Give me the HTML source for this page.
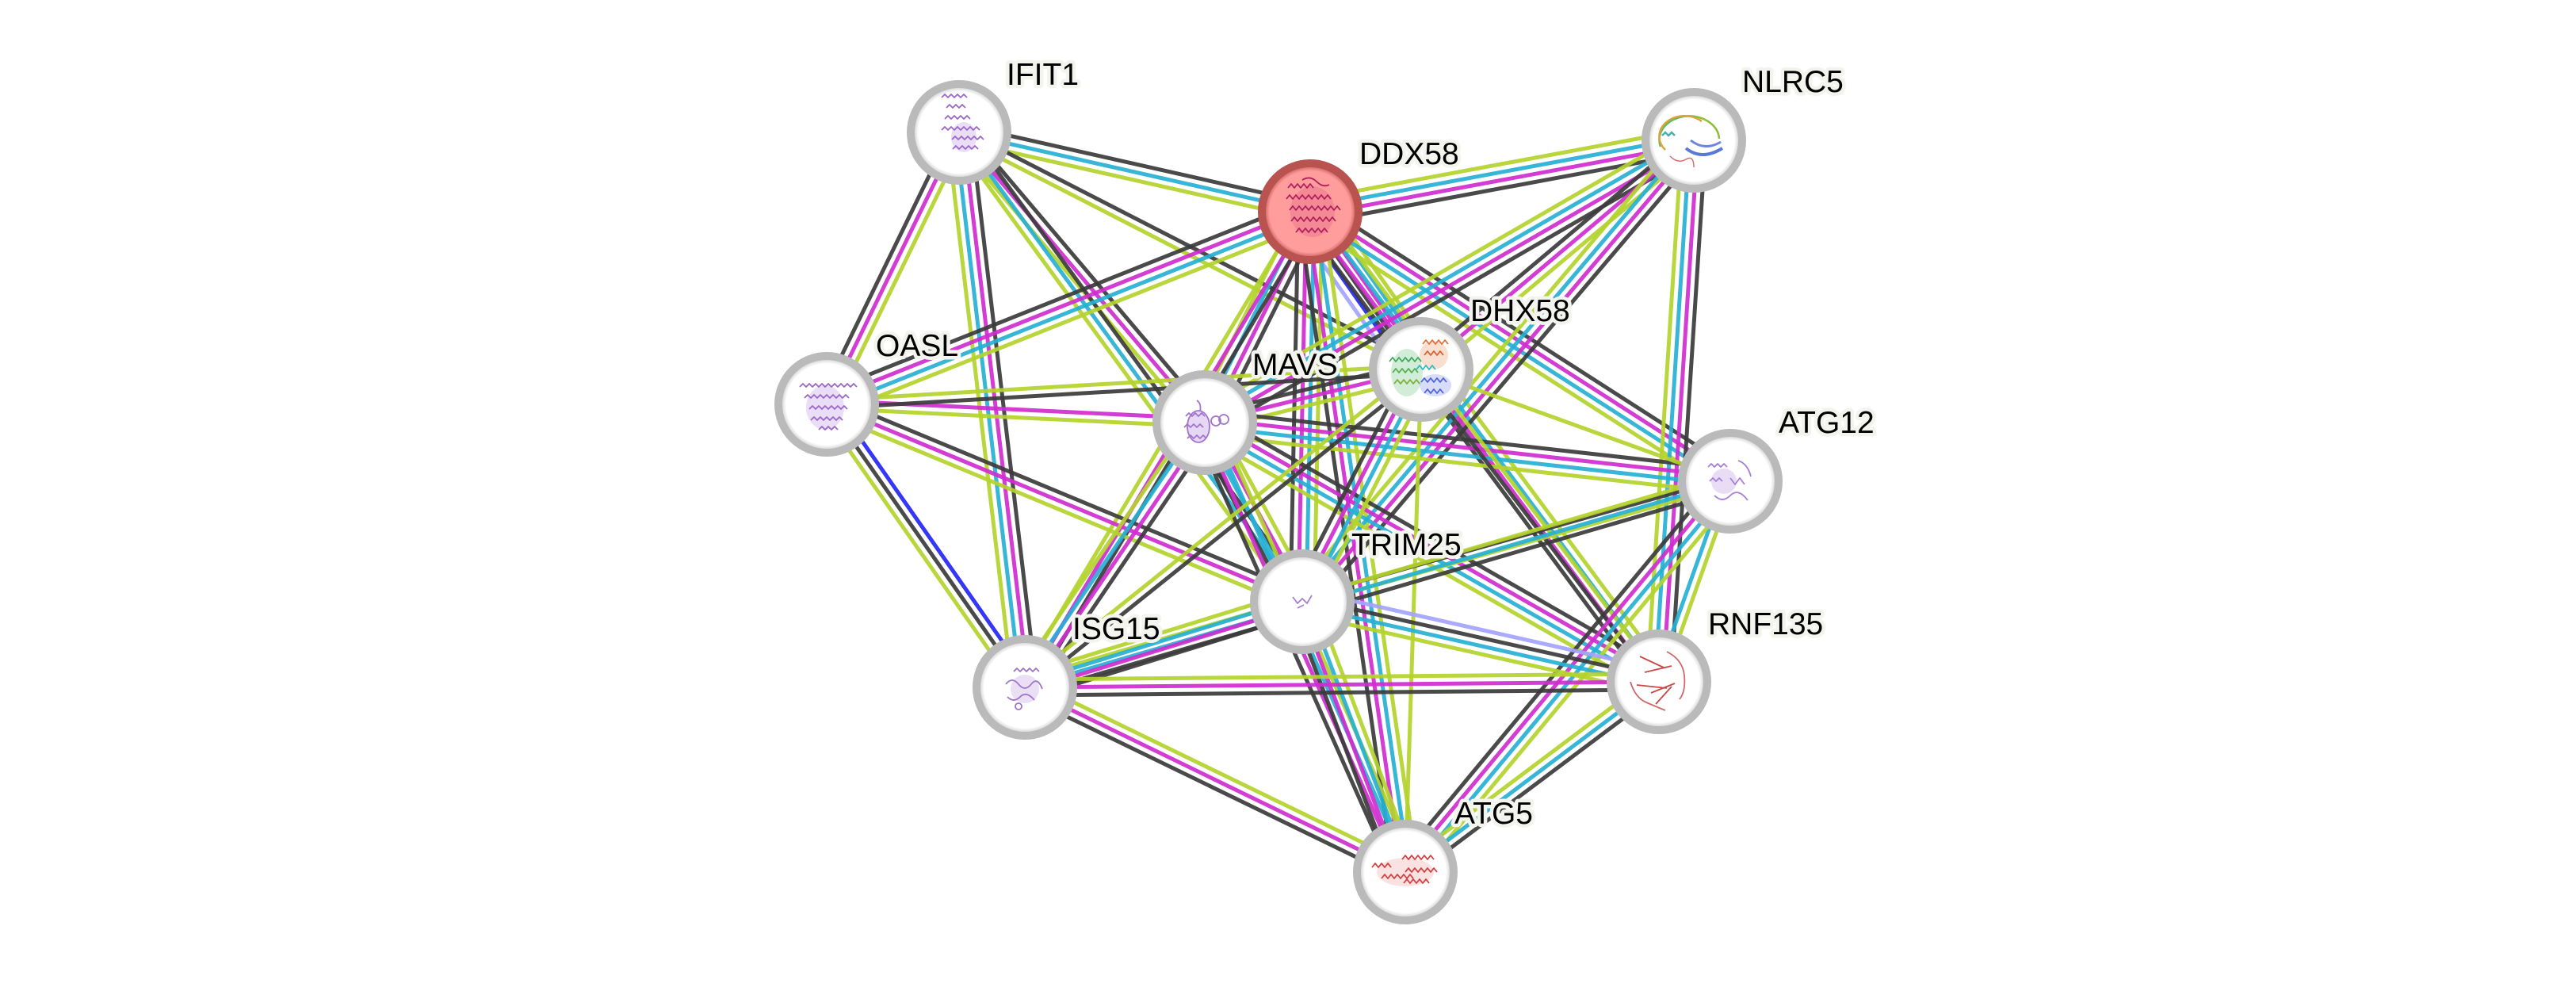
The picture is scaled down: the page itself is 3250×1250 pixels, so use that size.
<!DOCTYPE html>
<html><head><meta charset="utf-8">
<style>
html,body{margin:0;padding:0;background:#fff}
svg{display:block}
.e path{fill:none;stroke-width:5;stroke-opacity:.92}
.g{stroke:#b4d22c}.c{stroke:#27b0d4}.m{stroke:#cf2dcf}.k{stroke:#3b3b3b}.b{stroke:#2525f5}.l{stroke:#a3a3ff}
text{font-family:"Liberation Sans",Arial,sans-serif;font-size:39px;fill:#000;stroke:#f4f4ef;stroke-width:9px;stroke-linejoin:round;paint-order:stroke}
.s{fill:none;stroke-width:1.8;stroke-linejoin:round}
</style></head>
<body>
<svg width="3250" height="1250" viewBox="0 0 3250 1250" xmlns="http://www.w3.org/2000/svg">
<defs>
<radialGradient id="wg"><stop offset="0.84" stop-color="#fff"/><stop offset="0.93" stop-color="#d6d6d6"/></radialGradient>
<radialGradient id="rg"><stop offset="0.84" stop-color="#ff9d9d"/><stop offset="0.93" stop-color="#d46b69"/></radialGradient>
</defs>
<rect width="3250" height="1250" fill="#fff"/>

<!-- edges -->
<g class="e" transform="translate(1210 167) rotate(12.72)"><path class="k" d="M0-10H454"/><path class="c" d="M0 0H454"/><path class="g" d="M0 10H454"/></g>
<g class="e" transform="translate(1210 167) rotate(115.96)"><path class="k" d="M0 10H382"/><path class="m" d="M0 0H382"/><path class="g" d="M0-10H382"/></g>
<g class="e" transform="translate(1210 167) rotate(83.24)"><path class="g" d="M0 15H705"/><path class="c" d="M0 5H705"/><path class="m" d="M0-5H705"/><path class="k" d="M0-15H705"/></g>
<g class="e" transform="translate(1210 167) rotate(49.73)"><path class="k" d="M0-10H480"/><path class="m" d="M0 0H480"/><path class="g" d="M0 10H480"/></g>
<g class="e" transform="translate(1210 167) rotate(53.82)"><path class="k" d="M0-10H734"/><path class="c" d="M0 0H734"/><path class="g" d="M0 10H734"/></g>
<g class="e" transform="translate(1210 167) rotate(27.15)"><path class="k" d="M0-5H655"/><path class="g" d="M0 5H655"/></g>
<g class="e" transform="translate(1653 267) rotate(-10.53)"><path class="g" d="M0-15H492"/><path class="c" d="M0-5H492"/><path class="m" d="M0 5H492"/><path class="k" d="M0 15H492"/></g>
<g class="e" transform="translate(1043 510) rotate(-21.72)"><path class="k" d="M0-15H657"/><path class="m" d="M0-5H657"/><path class="c" d="M0 5H657"/><path class="g" d="M0 15H657"/></g>
<g class="e" transform="translate(1653 267) rotate(116.57)"><path class="g" d="M0 15H297"/><path class="c" d="M0 5H297"/><path class="m" d="M0-5H297"/><path class="k" d="M0-15H297"/></g>
<g class="e" transform="translate(1653 267) rotate(54.85)"><path class="l" d="M0 25H243"/><path class="b" d="M0 15H243"/><path class="k" d="M0 5H243"/><path class="m" d="M0-5H243"/><path class="c" d="M0-15H243"/><path class="g" d="M0-25H243"/></g>
<g class="e" transform="translate(1653 267) rotate(91.16)"><path class="k" d="M0 15H492"/><path class="m" d="M0 5H492"/><path class="c" d="M0-5H492"/><path class="g" d="M0-15H492"/></g>
<g class="e" transform="translate(1653 267) rotate(120.96)"><path class="g" d="M0 10H700"/><path class="m" d="M0 0H700"/><path class="k" d="M0-10H700"/></g>
<g class="e" transform="translate(1653 267) rotate(53.43)"><path class="k" d="M0 15H738"/><path class="m" d="M0 5H738"/><path class="c" d="M0-5H738"/><path class="g" d="M0-15H738"/></g>
<g class="e" transform="translate(1653 267) rotate(32.68)"><path class="k" d="M0-15H630"/><path class="m" d="M0-5H630"/><path class="c" d="M0 5H630"/><path class="g" d="M0 15H630"/></g>
<g class="e" transform="translate(1653 267) rotate(81.80)"><path class="k" d="M0 15H842"/><path class="m" d="M0 5H842"/><path class="c" d="M0-5H842"/><path class="g" d="M0-15H842"/></g>
<g class="e" transform="translate(1520 533) rotate(-29.99)"><path class="g" d="M0-15H712"/><path class="c" d="M0-5H712"/><path class="m" d="M0 5H712"/><path class="k" d="M0 15H712"/></g>
<g class="e" transform="translate(1793 466) rotate(-40.03)"><path class="k" d="M0-10H449"/><path class="m" d="M0 0H449"/><path class="g" d="M0 10H449"/></g>
<g class="e" transform="translate(1643 759) rotate(-49.67)"><path class="g" d="M0-15H763"/><path class="c" d="M0-5H763"/><path class="m" d="M0 5H763"/><path class="k" d="M0 15H763"/></g>
<g class="e" transform="translate(2137 177) rotate(93.69)"><path class="g" d="M0 15H684"/><path class="c" d="M0 5H684"/><path class="m" d="M0-5H684"/><path class="k" d="M0-15H684"/></g>
<g class="e" transform="translate(1043 510) rotate(2.76)"><path class="m" d="M0-5H478"/><path class="g" d="M0 5H478"/></g>
<g class="e" transform="translate(1043 510) rotate(-3.36)"><path class="g" d="M0-5H751"/><path class="k" d="M0 5H751"/></g>
<g class="e" transform="translate(1043 510) rotate(22.54)"><path class="k" d="M0-10H650"/><path class="m" d="M0 0H650"/><path class="g" d="M0 10H650"/></g>
<g class="e" transform="translate(1043 510) rotate(55.0)"><path class="g" d="M0 10H436"/><path class="k" d="M0 0H436"/><path class="b" d="M0-10H436"/></g>
<g class="e" transform="translate(1520 533) rotate(-13.79)"><path class="k" d="M0-10H281"/><path class="m" d="M0 0H281"/><path class="g" d="M0 10H281"/></g>
<g class="e" transform="translate(1520 533) rotate(6.37)"><path class="k" d="M0-15H667"/><path class="m" d="M0-5H667"/><path class="c" d="M0 5H667"/><path class="g" d="M0 15H667"/></g>
<g class="e" transform="translate(1520 533) rotate(61.44)"><path class="k" d="M0 15H257"/><path class="c" d="M0 5H257"/><path class="m" d="M0-5H257"/><path class="g" d="M0-15H257"/></g>
<g class="e" transform="translate(1520 533) rotate(124.2)"><path class="g" d="M0 15H404"/><path class="c" d="M0 5H404"/><path class="m" d="M0-5H404"/><path class="k" d="M0-15H404"/></g>
<g class="e" transform="translate(1520 533) rotate(29.71)"><path class="k" d="M0-15H660"/><path class="m" d="M0-5H660"/><path class="c" d="M0 5H660"/><path class="g" d="M0 15H660"/></g>
<g class="e" transform="translate(1520 533) rotate(65.96)"><path class="k" d="M0 15H621"/><path class="m" d="M0 5H621"/><path class="c" d="M0-5H621"/><path class="g" d="M0-15H621"/></g>
<g class="e" transform="translate(1793 466) rotate(19.88)"><path class="g" d="M0 0H415"/></g>
<g class="e" transform="translate(1793 466) rotate(117.11)"><path class="k" d="M0 15H329"/><path class="m" d="M0 5H329"/><path class="c" d="M0-5H329"/><path class="g" d="M0-15H329"/></g>
<g class="e" transform="translate(1293 867) rotate(-38.73)"><path class="g" d="M0-5H641"/><path class="k" d="M0 5H641"/></g>
<g class="e" transform="translate(1793 466) rotate(52.71)"><path class="k" d="M0 5H495"/><path class="g" d="M0-5H495"/></g>
<g class="e" transform="translate(1793 466) rotate(91.81)"><path class="g" d="M0 0H634"/></g>
<g class="e" transform="translate(1643 759) rotate(-15.72)"><path class="k" d="M0-5H561"/><path class="g" d="M0 5H561"/></g>
<g class="e" transform="translate(1293 867) rotate(-16.28)"><path class="g" d="M0-10H927"/><path class="c" d="M0 0H927"/><path class="k" d="M0 10H927"/></g>
<g class="e" transform="translate(2183 607) rotate(109.58)"><path class="c" d="M0 5H269"/><path class="g" d="M0-5H269"/></g>
<g class="e" transform="translate(2183 607) rotate(129.74)"><path class="k" d="M0 15H641"/><path class="m" d="M0 5H641"/><path class="c" d="M0-5H641"/><path class="g" d="M0-15H641"/></g>
<g class="e" transform="translate(1293 867) rotate(-17.15)"><path class="g" d="M0-15H366"/><path class="c" d="M0-5H366"/><path class="m" d="M0 5H366"/><path class="k" d="M0 15H366"/></g>
<g class="e" transform="translate(1643 759) rotate(12.65)"><path class="l" d="M0-15H461"/><path class="k" d="M0-5H461"/><path class="c" d="M0 5H461"/><path class="g" d="M0 15H461"/></g>
<g class="e" transform="translate(1643 759) rotate(69.13)"><path class="k" d="M0 15H365"/><path class="m" d="M0 5H365"/><path class="c" d="M0-5H365"/><path class="g" d="M0-15H365"/></g>
<g class="e" transform="translate(1293 867) rotate(-0.50)"><path class="g" d="M0-10H800"/><path class="m" d="M0 0H800"/><path class="k" d="M0 10H800"/></g>
<g class="e" transform="translate(1293 867) rotate(25.90)"><path class="g" d="M0-10H534"/><path class="m" d="M0 0H534"/><path class="k" d="M0 10H534"/></g>
<g class="e" transform="translate(2093 860) rotate(143.13)"><path class="g" d="M0 10H400"/><path class="c" d="M0 0H400"/><path class="k" d="M0-10H400"/></g>

<!-- nodes -->
<circle cx="1210" cy="167" r="61" fill="url(#wg)" stroke="#bababa" stroke-width="10"/>
<circle cx="1653" cy="267" r="61" fill="url(#rg)" stroke="#b95350" stroke-width="10"/>
<circle cx="2137" cy="177" r="61" fill="url(#wg)" stroke="#bababa" stroke-width="10"/>
<circle cx="1043" cy="510" r="61" fill="url(#wg)" stroke="#bababa" stroke-width="10"/>
<circle cx="1520" cy="533" r="61" fill="url(#wg)" stroke="#bababa" stroke-width="10"/>
<circle cx="1793" cy="466" r="61" fill="url(#wg)" stroke="#bababa" stroke-width="10"/>
<circle cx="2183" cy="607" r="61" fill="url(#wg)" stroke="#bababa" stroke-width="10"/>
<circle cx="1643" cy="759" r="61" fill="url(#wg)" stroke="#bababa" stroke-width="10"/>
<circle cx="1293" cy="867" r="61" fill="url(#wg)" stroke="#bababa" stroke-width="10"/>
<circle cx="2093" cy="860" r="61" fill="url(#wg)" stroke="#bababa" stroke-width="10"/>
<circle cx="1773" cy="1100" r="61" fill="url(#wg)" stroke="#bababa" stroke-width="10"/>

<!-- structures -->
<g transform="translate(1210 167)">
<ellipse cx="6" cy="6" rx="16" ry="19" fill="#dcc8f0" opacity=".6"/>
<g class="s" stroke="#9a68c9">
<path d="M-22-44l4-4 4 4 4-4 4 4 4-4 4 4 4-4 4 4"/>
<path d="M-16-31l4-4 4 4 4-4 4 4 4-4 4 4"/>
<path d="M-18-17l4-4 4 4 4-4 4 4 4-4 4 4 4-4 4 4"/>
<path d="M-22-3l4-4 4 4 4-4 4 4 4-4 4 4 4-4 4 4 4-4 4 4 4-4 4 4"/>
<path d="M-9 9l4-4 4 4 4-4 4 4 4-4 4 4 4-4 4 4 4-4 4 4"/>
<path d="M-8 21l4-4 4 4 4-4 4 4 4-4 4 4 4-4 4 4"/>
</g></g>

<g transform="translate(1653 267)">
<ellipse cx="3" cy="0" rx="28" ry="32" fill="#d0507e" opacity=".25"/>
<g class="s" stroke="#b01f5c">
<path d="M-28-30l4-5 4 5 4-5 4 5 4-5 4 5 4-5 4 5"/>
<path d="M-30-16l4-5 4 5 4-5 4 5 4-5 4 5 4-5 4 5 4-5 4 5 4-5 4 5 4-5 4 5"/>
<path d="M-26-2l4-5 4 5 4-5 4 5 4-5 4 5 4-5 4 5 4-5 4 5 4-5 4 5 4-5 4 5 4-5 4 5"/>
<path d="M-24 12l4-5 4 5 4-5 4 5 4-5 4 5 4-5 4 5 4-5 4 5 4-5 4 5 4-5 4 5"/>
<path d="M-18 26l4-5 4 5 4-5 4 5 4-5 4 5 4-5 4 5 4-5 4 5"/>
<path d="M-10 -40q10-6 18 2t16 4"/>
</g></g>

<g transform="translate(2137 177)" fill="none" stroke-width="2.5">
<path d="M-42 8A38 30 0 0 1 2-30" stroke="#55c064"/>
<path d="M-36 12A32 26 0 0 1 10-24" stroke="#e0a03a"/>
<path d="M2-30A38 30 0 0 1 32-2" stroke="#8bbf3a"/>
<path d="M-10 10Q10 26 36 10" stroke="#5a78d8" stroke-width="4"/>
<path d="M-4 0Q14 14 34 2" stroke="#6a86e0" stroke-width="3"/>
<path d="M-30 20q10 10 20 4t10 10" stroke="#e06a6a" stroke-width="1.5"/>
<path d="M-40 -6l4-4 4 4 4-4 4 4" stroke="#4ab0b0"/>
</g>

<g transform="translate(1043 510)">
<ellipse cx="-2" cy="4" rx="24" ry="28" fill="#dcc8f0" opacity=".6"/>
<g class="s" stroke="#9a68c9">
<path d="M-34-22l4-4 4 4 4-4 4 4 4-4 4 4 4-4 4 4 4-4 4 4 4-4 4 4 4-4 4 4 4-4 4 4 4-4 4 4"/>
<path d="M-28-8l4-4 4 4 4-4 4 4 4-4 4 4 4-4 4 4 4-4 4 4 4-4 4 4 4-4 4 4"/>
<path d="M-22 6l4-4 4 4 4-4 4 4 4-4 4 4 4-4 4 4 4-4 4 4 4-4 4 4"/>
<path d="M-20 20l4-4 4 4 4-4 4 4 4-4 4 4 4-4 4 4 4-4 4 4"/>
<path d="M-10 32l4-4 4 4 4-4 4 4 4-4 4 4"/>
</g></g>

<g transform="translate(1520 533)">
<g class="s" stroke="#a274cf">
<ellipse cx="-8" cy="5" rx="14" ry="20" fill="#e6d8f4"/>
<path d="M-24-8l4-4 4 4 4-4 4 4 4-4 4 4"/>
<path d="M-26 6l4-4 4 4 4-4 4 4 4-4 4 4"/>
<path d="M-22 20l4-4 4 4 4-4 4 4 4-4 4 4"/>
<circle cx="14" cy="-2" r="6"/><circle cx="24" cy="-4" r="6"/>
<path d="M-10-28q6 4 4 14"/>
</g></g>

<g transform="translate(1793 466)">
<ellipse cx="-18" cy="4" rx="20" ry="30" fill="#8fd39a" opacity=".4"/>
<ellipse cx="16" cy="-18" rx="18" ry="18" fill="#f0b08a" opacity=".4"/>
<ellipse cx="18" cy="20" rx="20" ry="14" fill="#9aa8ee" opacity=".4"/>
<g class="s">
<path stroke="#3fa85a" d="M-40-10l4-5 4 5 4-5 4 5 4-5 4 5 4-5 4 5 4-5 4 5"/>
<path stroke="#52b04e" d="M-36 4l4-5 4 5 4-5 4 5 4-5 4 5 4-5 4 5"/>
<path stroke="#7bb03a" d="M-34 18l4-5 4 5 4-5 4 5 4-5 4 5 4-5 4 5"/>
<path stroke="#e0703a" d="M2-32l4-5 4 5 4-5 4 5 4-5 4 5 4-5 4 5"/>
<path stroke="#d8602e" d="M4-18l4-5 4 5 4-5 4 5 4-5 4 5"/>
<path stroke="#30b8c8" d="M-6 0l4-5 4 5 4-5 4 5 4-5 4 5"/>
<path stroke="#4f62d8" d="M0 16l4-5 4 5 4-5 4 5 4-5 4 5 4-5 4 5"/>
<path stroke="#4f62d8" d="M4 30l4-5 4 5 4-5 4 5 4-5 4 5"/>
</g></g>

<g transform="translate(2183 607)">
<ellipse cx="-8" cy="0" rx="16" ry="16" fill="#e0cff2" opacity=".7"/>
<g class="s" stroke="#a77fd8">
<path d="M-28-18l4-4 4 4 4-4 4 4 4-4 4 4"/>
<path d="M-26 0l4-4 4 4 4-4 4 4"/>
<path d="M0-4l6 8 6-8 6 8"/>
<path d="M-20 18q10 10 20 0t22 6"/>
<path d="M10-26q12 4 16 20"/>
</g></g>

<g transform="translate(1643 759)" class="s" stroke="#a580cf" stroke-width="3">
<path d="M-12-6l6 8 6-6 6 6 6-10"/>
<path d="M-6 8l8-4"/>
</g>

<g transform="translate(1293 867)">
<ellipse cx="0" cy="2" rx="18" ry="18" fill="#e2d2f2" opacity=".7"/>
<g class="s" stroke="#9e74cc">
<path d="M-14-20l4-4 4 4 4-4 4 4 4-4 4 4 4-4 4 4"/>
<path d="M-24-4q8-10 16 0t16 0t14 6"/>
<path d="M-22 12q8 8 16 0t18 4"/>
<circle cx="-8" cy="24" r="4"/>
</g></g>

<g transform="translate(2093 860)">
<g class="s" stroke="#c84848" stroke-width="3">
<path d="M-24-32l30 14"/>
<path d="M-18-12l34-8"/>
<path d="M-28 4l38 4"/>
<path d="M-10 14l30-12"/>
<path d="M-4 28l20-22"/>
</g>
<g class="s" stroke="#d06666" stroke-width="1.5">
<path d="M-36 0q6 20 20 26t24 10"/>
<path d="M10-38q20 10 22 30t-6 30"/>
</g></g>

<g transform="translate(1773 1100)">
<ellipse cx="0" cy="0" rx="36" ry="18" fill="#f0a0a0" opacity=".3"/>
<g class="s" stroke="#d04040">
<path d="M-42-6l4-5 4 5 4-5 4 5 4-5 4 5"/>
<path d="M-30 8l4-5 4 5 4-5 4 5 4-5 4 5 4-5 4 5 4-5 4 5"/>
<path d="M-4-16l4-5 4 5 4-5 4 5 4-5 4 5 4-5 4 5 4-5 4 5"/>
<path d="M-2 14l4-5 4 5 4-5 4 5 4-5 4 5 4-5 4 5"/>
<path d="M0 0l4-5 4 5 4-5 4 5 4-5 4 5 4-5 4 5 4-5 4 5"/>
</g></g>

<!-- labels -->
<text x="1270" y="107">IFIT1</text>
<text x="1715" y="207">DDX58</text>
<text x="2198" y="116">NLRC5</text>
<text x="1105" y="449">OASL</text>
<text x="1580" y="473">MAVS</text>
<text x="1855" y="405">DHX58</text>
<text x="2244" y="546">ATG12</text>
<text x="1705" y="700">TRIM25</text>
<text x="1353" y="806">ISG15</text>
<text x="2155" y="800">RNF135</text>
<text x="1835" y="1039">ATG5</text>
</svg>
</body></html>
